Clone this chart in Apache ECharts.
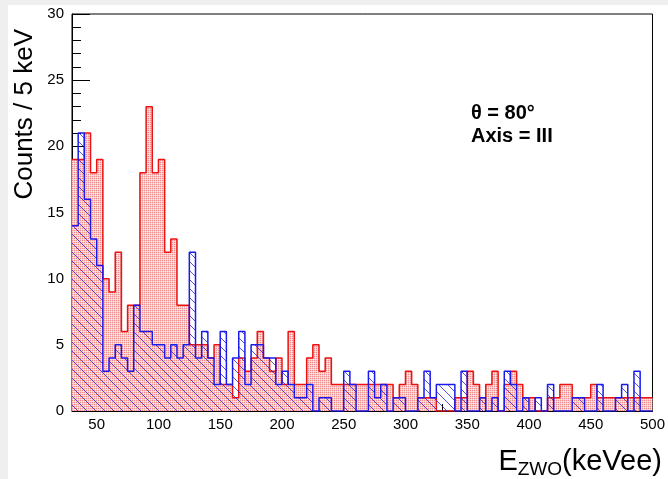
<!DOCTYPE html>
<html>
<head>
<meta charset="utf-8">
<script src="https://cdn.jsdelivr.net/npm/echarts@6/dist/echarts.min.js"></script>
<style>
  html, body { margin: 0; padding: 0; background: #ffffff; }
  #chart { width: 668px; height: 479px; }
</style>
</head>
<body>
<div id="chart"></div>
<script>
// ---- data (counts per 5 keV bin, bins starting at 30 keV) ----
const X_MIN = 30;
const X_MAX = 500;
const BIN = 5;
const redCounts = [
  19, 19, 21, 18, 19, 10, 9, 12, 6, 8,
  8, 18, 23, 18, 19, 12, 13, 8, 8, 5,
  5, 5, 4, 5, 2, 2, 1, 4, 3, 4,
  6, 4, 3, 4, 2, 6, 2, 2, 4, 5,
  3, 4, 2, 2, 2, 2, 2, 2, 2, 2,
  2, 2, 1, 2, 3, 2, 1, 1, 1, 0,
  0, 0, 1, 1, 3, 2, 1, 2, 3, 0,
  2, 3, 2, 1, 1, 0, 0, 1, 1, 2,
  2, 1, 1, 1, 2, 1, 1, 1, 1, 1,
  1, 1, 1, 1
];
const blueCounts = [
  14, 21, 16, 13, 11, 3, 4, 5, 4, 3,
  8, 6, 6, 5, 5, 4, 5, 4, 5, 12,
  4, 6, 4, 2, 6, 2, 4, 6, 2, 5,
  5, 4, 4, 2, 3, 2, 1, 1, 2, 0,
  1, 1, 0, 0, 3, 2, 0, 0, 3, 1,
  2, 0, 1, 1, 0, 0, 1, 3, 1, 2,
  2, 2, 0, 3, 0, 0, 1, 0, 1, 0,
  3, 2, 0, 1, 0, 1, 0, 2, 0, 0,
  0, 1, 1, 0, 0, 2, 0, 0, 1, 2,
  0, 3, 0, 0
];
const xTickLabels = [50, 100, 150, 200, 250, 300, 350, 400, 450, 500];
const yTitle = 'Counts / 5 keV';
const infoLines = ['θ = 80°', 'Axis = III'];

// step-line points: one per bin lower edge, plus closing point at the upper edge
function stepData(counts) {
  const pts = counts.map((v, i) => [X_MIN + i * BIN, v]);
  pts.push([X_MIN + counts.length * BIN, counts[counts.length - 1]]);
  return pts;
}

function dotPattern() {
  const c = document.createElement('canvas');
  c.width = 2; c.height = 2;
  const g = c.getContext('2d');
  g.fillStyle = 'rgb(240,140,140)'; g.fillRect(0, 0, 1, 1);
  g.fillStyle = 'rgb(248,205,205)'; g.fillRect(1, 0, 1, 1); g.fillRect(0, 1, 1, 1);
  g.fillStyle = 'rgb(252,228,228)'; g.fillRect(1, 1, 1, 1);
  return c;
}
function hatchPattern() {
  const s = 9;
  const c = document.createElement('canvas');
  c.width = s; c.height = s;
  const g = c.getContext('2d');
  g.strokeStyle = 'rgba(30,30,220,0.85)';
  g.lineWidth = 0.9;
  g.beginPath();
  g.moveTo(-1, -1); g.lineTo(s + 1, s + 1);
  g.moveTo(-1, s - 1); g.lineTo(1, s + 1);
  g.moveTo(s - 1, -1); g.lineTo(s + 1, 1);
  g.stroke();
  return c;
}

const chart = echarts.init(document.getElementById('chart'), null, { renderer: 'canvas' });
const FONT = '"Liberation Sans", Arial, Helvetica, sans-serif';

chart.setOption({
  animation: false,
  backgroundColor: '#ffffff',
  grid: { left: 72, right: 11, top: 14, bottom: 68, show: true, borderColor: '#000', borderWidth: 1, backgroundColor: 'transparent' },
  xAxis: [
    {
      type: 'value', min: X_MIN, max: X_MAX, position: 'bottom',
      splitLine: { show: false },
      axisLine: { show: true, lineStyle: { color: '#000', width: 1 } },
      axisTick: { show: true, inside: true, length: 13, customValues: xTickLabels, lineStyle: { color: '#000' } },
      axisLabel: { show: true, customValues: xTickLabels, color: '#000', fontSize: 15, fontFamily: FONT, margin: 6 }
    },
    {
      type: 'value', min: X_MIN, max: X_MAX, interval: 10, position: 'bottom',
      splitLine: { show: false },
      axisLine: { show: false },
      axisTick: { show: true, inside: true, length: 7, lineStyle: { color: '#000' } },
      axisLabel: { show: false }
    }
  ],
  yAxis: {
    type: 'value', min: 0, max: 30, interval: 5,
    splitLine: { show: false },
    axisLine: { show: true, lineStyle: { color: '#000', width: 1 } },
    axisTick: { show: true, inside: true, length: 18, lineStyle: { color: '#000' } },
    minorTick: { show: true, splitNumber: 5, length: 9, lineStyle: { color: '#000' } },
    axisLabel: { color: '#000', fontSize: 15, fontFamily: FONT, margin: 8 }
  },
  series: [
    {
      type: 'line', name: 'red', data: stepData(redCounts), step: 'end',
      symbol: 'none', clip: true,
      lineStyle: { color: '#ee1111', width: 1.5 },
      areaStyle: { color: { image: dotPattern(), repeat: 'repeat' }, opacity: 1 },
      z: 2
    },
    {
      type: 'line', name: 'blue', data: stepData(blueCounts), step: 'end',
      symbol: 'none', clip: true,
      lineStyle: { color: '#1a1aee', width: 1.5 },
      areaStyle: { color: { image: hatchPattern(), repeat: 'repeat' }, opacity: 1 },
      z: 3
    }
  ],
  graphic: [
    { type: 'rect', left: 0, top: 0, shape: { width: 8, height: 479 }, style: { fill: '#efefef' }, z: -10, silent: true },
    { type: 'rect', left: 0, top: 0, shape: { width: 668, height: 5 }, style: { fill: '#efefef' }, z: -10, silent: true },
    {
      type: 'text', x: 25, y: 29, rotation: Math.PI / 2,
      style: { text: yTitle, fill: '#000', font: '26px ' + FONT, textAlign: 'right', textVerticalAlign: 'middle' }
    },
    {
      type: 'text', x: 662, y: 462,
      style: {
        text: 'E{s|ZWO}(keVee)', fill: '#000', font: '29px ' + FONT,
        textAlign: 'right', textVerticalAlign: 'middle',
        rich: { s: { fontSize: 19, fontFamily: FONT, padding: [15, 0, 0, 0] } }
      }
    },
    {
      type: 'text', x: 471, y: 113,
      style: { text: infoLines[0], fill: '#000', font: 'bold 20px ' + FONT, textAlign: 'left', textVerticalAlign: 'middle' }
    },
    {
      type: 'text', x: 471, y: 136,
      style: { text: infoLines[1], fill: '#000', font: 'bold 20px ' + FONT, textAlign: 'left', textVerticalAlign: 'middle' }
    }
  ]
});
</script>
</body>
</html>
